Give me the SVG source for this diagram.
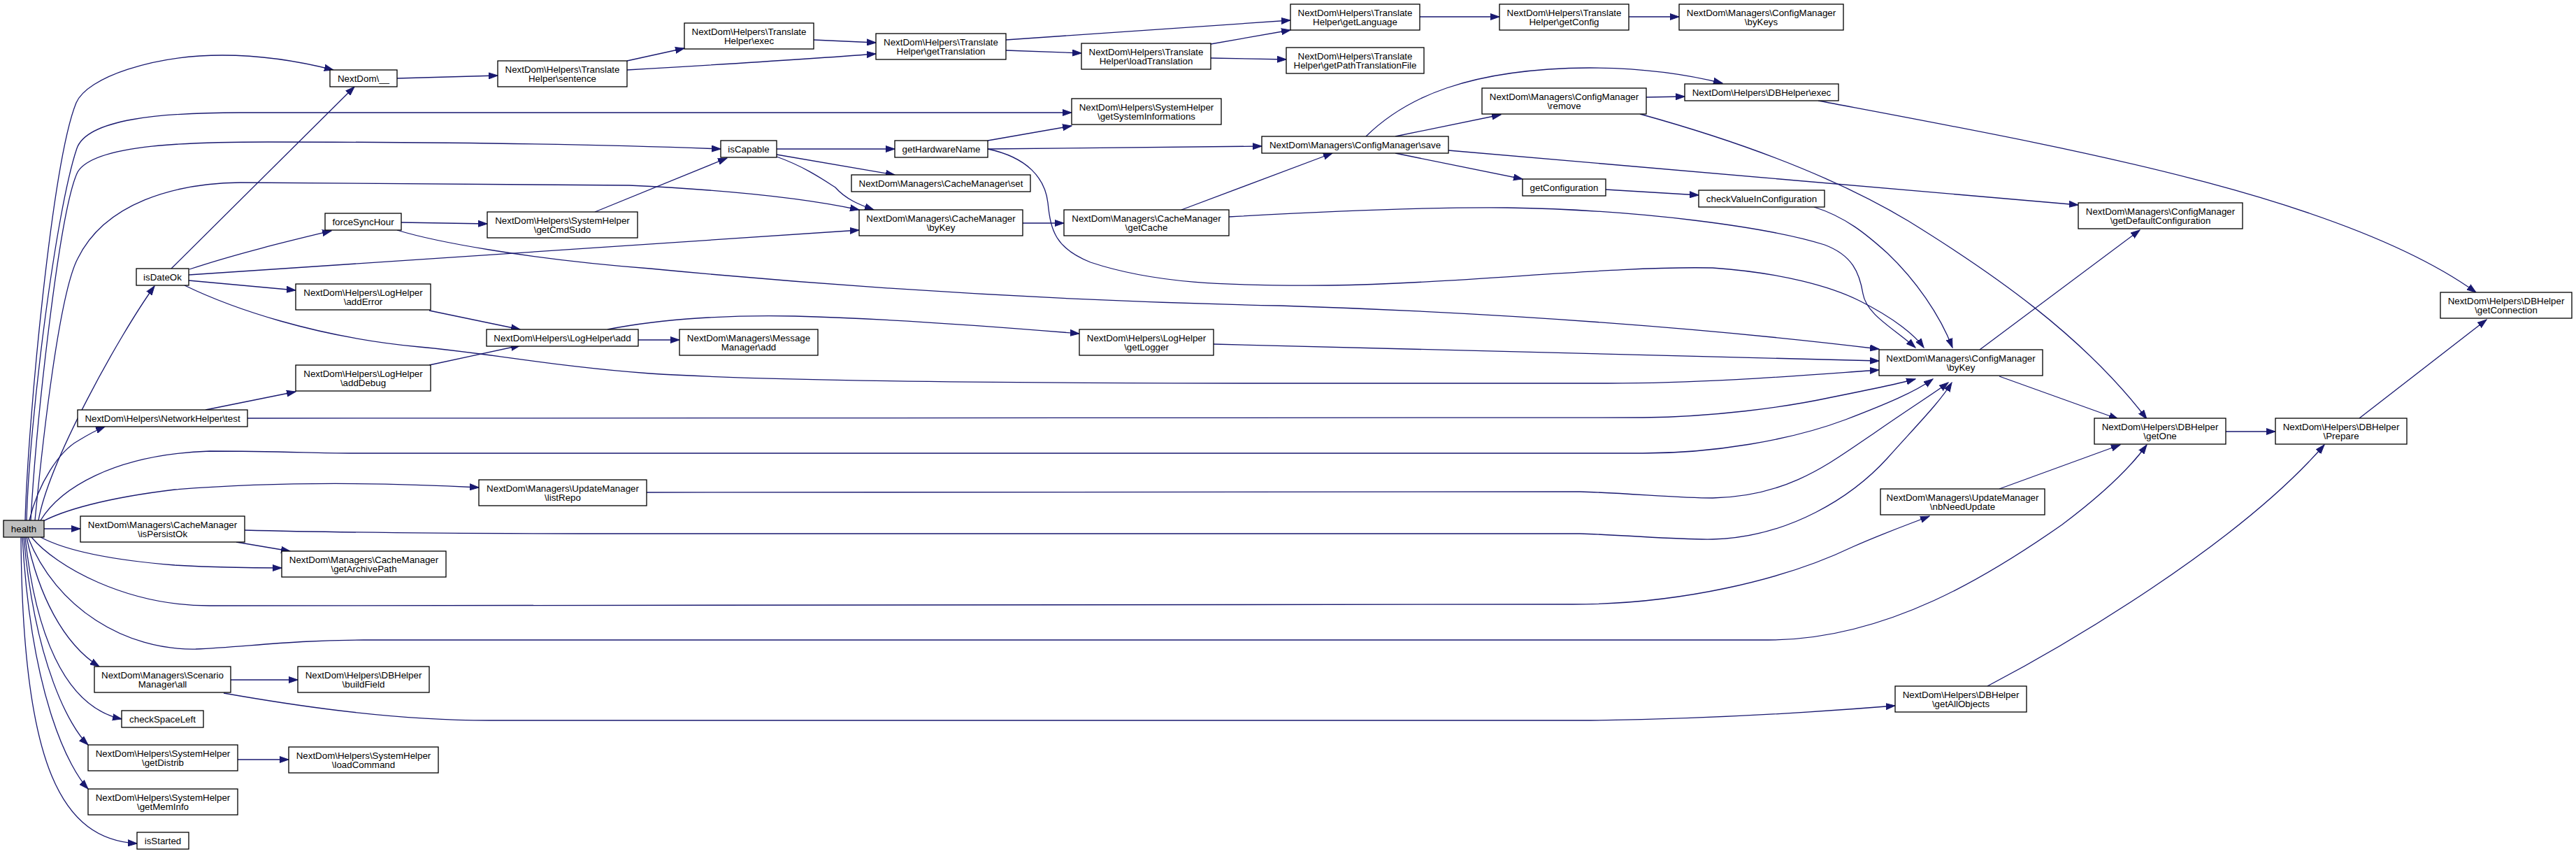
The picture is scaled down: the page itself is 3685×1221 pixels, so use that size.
<svg xmlns="http://www.w3.org/2000/svg" width="3685" height="1221" viewBox="0 0 3685 1221">
<style>
.n rect{fill:#ffffff;stroke:#000000;stroke-width:1.3}
.n text{font-family:"Liberation Sans",Arial,Helvetica,sans-serif;font-size:13.33px;fill:#000000;text-anchor:middle}
#n_health rect{fill:#bfbfbf}
.e path{fill:none;stroke:#191970;stroke-width:1.3;marker-end:url(#ah)}
</style>
<defs>
<marker id="ah" markerWidth="14" markerHeight="10" refX="13" refY="5" orient="auto" markerUnits="userSpaceOnUse">
<path d="M0,0.5 L13,5 L0,9.5 z" fill="#191970" stroke="#191970" stroke-width="1"/>
</marker>
</defs>
<rect x="0" y="0" width="3685" height="1221" fill="#ffffff"/>
<g id="edges" class="e">
<path d="M 36,744 C 40,600 75,230 109,147 C 125,110 220,79 318,79 C 380,79 430,88 477,100"/>
<path d="M 38,744 C 42,600 80,300 110,212 C 125,170 230,161 344,161 L 1533,161"/>
<path d="M 44,744 C 52,600 85,300 111,246 C 135,205 280,203 383,203 C 600,203 850,206 1031,213"/>
<path d="M 50,744 C 62,620 85,420 111,370 C 150,290 250,262 344,261 L 900,265 C 1050,272 1160,285 1229,300"/>
<path d="M 55,744 C 70,660 170,480 221,409"/>
<path d="M 42,744 C 55,690 85,645 112,630 C 125,622 138,615 150,610"/>
<path d="M 58,744 C 85,700 160,650 300,645 C 400,645 450,648 500,648 L 2350,648 C 2450,648 2560,630 2640,600 C 2700,577 2740,560 2765,542"/>
<path d="M 60,746 C 90,730 150,712 250,700 C 400,688 550,690 685,697"/>
<path d="M 63,756 L 115,756"/>
<path d="M 58,768 C 90,785 150,800 250,808 C 320,812 370,812 403,812"/>
<path d="M 45,768 C 80,810 180,866 300,866 L 2250,864 C 2400,864 2550,830 2650,782 C 2700,760 2735,748 2760,738"/>
<path d="M 40,768 C 80,870 180,930 280,928 C 350,925 420,915 520,915 L 2530,915 C 2700,915 2850,820 2950,750 C 3010,705 3050,665 3071,636"/>
<path d="M 38,768 C 55,850 90,920 142,953"/>
<path d="M 36,768 C 50,900 90,1010 174,1028"/>
<path d="M 34,768 C 50,950 100,1040 126,1065"/>
<path d="M 32,768 C 45,1000 100,1100 126,1128"/>
<path d="M 30,768 C 32,1100 90,1200 196,1206"/>
<path d="M 245,384 L 507,124"/>
<path d="M 271,385 C 340,362 420,343 474,330"/>
<path d="M 270,393 L 1229,329"/>
<path d="M 270,401 L 423,415"/>
<path d="M 264,408 C 330,440 450,482 600,496 C 700,505 800,525 930,534 C 1100,545 1500,548 1830,548 L 2300,548 C 2450,548 2600,535 2688,529"/>
<path d="M 574,318 L 697,320"/>
<path d="M 568,329 C 620,345 750,370 930,384 C 1200,410 1500,430 1830,437 C 2150,447 2450,470 2688,499"/>
<path d="M 851,303 L 1040,226"/>
<path d="M 614,444 L 744,471"/>
<path d="M 614,522 L 744,494"/>
<path d="M 294,586 L 423,560"/>
<path d="M 354,598 L 2350,597 C 2450,596 2550,583 2620,568 C 2680,556 2715,549 2740,542"/>
<path d="M 913,486 L 972,486"/>
<path d="M 869,471 C 950,455 1050,450 1137,452 C 1250,455 1400,465 1544,477"/>
<path d="M 1736,492 L 2688,516"/>
<path d="M 568,112 L 712,108"/>
<path d="M 897,87 L 979,69"/>
<path d="M 897,100 C 1000,94 1150,85 1253,77"/>
<path d="M 1164,57 L 1253,61"/>
<path d="M 1439,57 L 1846,29"/>
<path d="M 1439,72 L 1547,76"/>
<path d="M 1732,63 L 1846,43"/>
<path d="M 1732,83 L 1840,85"/>
<path d="M 2031,24 L 2145,24"/>
<path d="M 2330,24 L 2402,24"/>
<path d="M 1413,201 L 1533,180"/>
<path d="M 1413,213 L 1805,209"/>
<path d="M 1413,213 C 1470,225 1495,255 1499,290 C 1503,330 1510,355 1560,375 C 1650,405 1750,409 1900,408 C 2100,405 2300,380 2450,383 C 2550,390 2620,410 2660,430 C 2710,455 2740,480 2752,497"/>
<path d="M 1111,213 L 1280,213"/>
<path d="M 1111,221 L 1280,250"/>
<path d="M 1111,224 C 1150,238 1175,255 1195,268 C 1210,285 1230,293 1250,300"/>
<path d="M 1463,319 L 1522,319"/>
<path d="M 1690,300 L 1906,219"/>
<path d="M 1758,310 C 1900,302 2050,296 2156,297 C 2350,300 2530,325 2610,350 C 2650,365 2660,390 2665,420 C 2670,450 2710,470 2740,497"/>
<path d="M 1954,195 C 2010,140 2100,98 2274,97 C 2360,97 2420,108 2464,119"/>
<path d="M 1996,195 L 2147,164"/>
<path d="M 1996,219 L 2178,256"/>
<path d="M 2072,215 L 2973,293"/>
<path d="M 2355,139 L 2410,138"/>
<path d="M 2297,271 L 2430,279"/>
<path d="M 2595,296 C 2640,310 2670,335 2700,362 C 2740,400 2775,450 2793,497"/>
<path d="M 2346,163 C 2480,200 2620,250 2730,316 C 2850,390 2980,480 3071,599"/>
<path d="M 2601,144 C 2950,210 3350,280 3542,418"/>
<path d="M 2832,500 L 3061,329"/>
<path d="M 2860,538 L 3030,599"/>
<path d="M 3184,617 L 3255,617"/>
<path d="M 3375,598 L 3557,457"/>
<path d="M 2860,699 L 3033,636"/>
<path d="M 2843,981 C 2950,925 3200,780 3325,636"/>
<path d="M 330,972 L 426,972"/>
<path d="M 320,991 C 400,1005 550,1030 700,1030 L 2275,1030 C 2450,1028 2600,1018 2711,1009"/>
<path d="M 340,1086 L 413,1086"/>
<path d="M 338,775 L 415,788"/>
<path d="M 350,758 C 500,762 700,763 900,763 L 2260,763 C 2330,765 2400,772 2450,771 C 2560,768 2650,710 2700,655 C 2740,610 2775,575 2792,547"/>
<path d="M 925,704 L 2260,703 C 2330,705 2400,712 2450,712 C 2560,710 2620,660 2680,620 C 2730,585 2770,560 2787,547"/>
</g>
<g id="n_health" class="n"><rect x="5" y="744" width="58" height="24"/><text x="34" y="761">health</text></g>
<g id="n_underscore" class="n"><rect x="472" y="100" width="96" height="24"/><text x="520" y="117">NextDom\__</text></g>
<g id="n_sentence" class="n"><rect x="712" y="87" width="185" height="37"/><text x="804.5" y="104">NextDom\Helpers\Translate</text><text x="804.5" y="117">Helper\sentence</text></g>
<g id="n_texec" class="n"><rect x="979" y="33" width="185" height="37"/><text x="1071.5" y="50">NextDom\Helpers\Translate</text><text x="1071.5" y="63">Helper\exec</text></g>
<g id="n_gettranslation" class="n"><rect x="1253" y="48" width="186" height="37"/><text x="1346" y="65">NextDom\Helpers\Translate</text><text x="1346" y="78">Helper\getTranslation</text></g>
<g id="n_loadtranslation" class="n"><rect x="1547" y="62" width="185" height="37"/><text x="1639.5" y="79">NextDom\Helpers\Translate</text><text x="1639.5" y="92">Helper\loadTranslation</text></g>
<g id="n_getlanguage" class="n"><rect x="1846" y="6" width="185" height="37"/><text x="1938.5" y="23">NextDom\Helpers\Translate</text><text x="1938.5" y="36">Helper\getLanguage</text></g>
<g id="n_getconfig" class="n"><rect x="2145" y="6" width="185" height="37"/><text x="2237.5" y="23">NextDom\Helpers\Translate</text><text x="2237.5" y="36">Helper\getConfig</text></g>
<g id="n_bykeys" class="n"><rect x="2402" y="6" width="235" height="37"/><text x="2519.5" y="23">NextDom\Managers\ConfigManager</text><text x="2519.5" y="36">\byKeys</text></g>
<g id="n_getpath" class="n"><rect x="1840" y="68" width="197" height="37"/><text x="1938.5" y="85">NextDom\Helpers\Translate</text><text x="1938.5" y="98">Helper\getPathTranslationFile</text></g>
<g id="n_getsysinfo" class="n"><rect x="1533" y="141" width="214" height="37"/><text x="1640" y="158">NextDom\Helpers\SystemHelper</text><text x="1640" y="171">\getSystemInformations</text></g>
<g id="n_iscapable" class="n"><rect x="1031" y="201" width="80" height="24"/><text x="1071" y="218">isCapable</text></g>
<g id="n_gethw" class="n"><rect x="1280" y="201" width="133" height="24"/><text x="1346.5" y="218">getHardwareName</text></g>
<g id="n_cacheset" class="n"><rect x="1218" y="250" width="256" height="24"/><text x="1346" y="267">NextDom\Managers\CacheManager\set</text></g>
<g id="n_cachebykey" class="n"><rect x="1229" y="300" width="234" height="37"/><text x="1346" y="317">NextDom\Managers\CacheManager</text><text x="1346" y="330">\byKey</text></g>
<g id="n_getcache" class="n"><rect x="1522" y="300" width="236" height="37"/><text x="1640" y="317">NextDom\Managers\CacheManager</text><text x="1640" y="330">\getCache</text></g>
<g id="n_save" class="n"><rect x="1805" y="195" width="267" height="24"/><text x="1938.5" y="212">NextDom\Managers\ConfigManager\save</text></g>
<g id="n_remove" class="n"><rect x="2120" y="126" width="235" height="37"/><text x="2237.5" y="143">NextDom\Managers\ConfigManager</text><text x="2237.5" y="156">\remove</text></g>
<g id="n_dbexec" class="n"><rect x="2410" y="120" width="220" height="24"/><text x="2520" y="137">NextDom\Helpers\DBHelper\exec</text></g>
<g id="n_getconfiguration" class="n"><rect x="2178" y="256" width="119" height="24"/><text x="2237.5" y="273">getConfiguration</text></g>
<g id="n_checkvalue" class="n"><rect x="2430" y="272" width="180" height="24"/><text x="2520" y="289">checkValueInConfiguration</text></g>
<g id="n_getdefault" class="n"><rect x="2973" y="290" width="235" height="37"/><text x="3090.5" y="307">NextDom\Managers\ConfigManager</text><text x="3090.5" y="320">\getDefaultConfiguration</text></g>
<g id="n_configbykey" class="n"><rect x="2688" y="500" width="234" height="37"/><text x="2805" y="517">NextDom\Managers\ConfigManager</text><text x="2805" y="530">\byKey</text></g>
<g id="n_getconnection" class="n"><rect x="3491" y="418" width="188" height="37"/><text x="3585" y="435">NextDom\Helpers\DBHelper</text><text x="3585" y="448">\getConnection</text></g>
<g id="n_getone" class="n"><rect x="2996" y="598" width="188" height="37"/><text x="3090" y="615">NextDom\Helpers\DBHelper</text><text x="3090" y="628">\getOne</text></g>
<g id="n_prepare" class="n"><rect x="3255" y="598" width="188" height="37"/><text x="3349" y="615">NextDom\Helpers\DBHelper</text><text x="3349" y="628">\Prepare</text></g>
<g id="n_nbneedupdate" class="n"><rect x="2690" y="699" width="235" height="37"/><text x="2807.5" y="716">NextDom\Managers\UpdateManager</text><text x="2807.5" y="729">\nbNeedUpdate</text></g>
<g id="n_getallobjects" class="n"><rect x="2711" y="981" width="188" height="37"/><text x="2805" y="998">NextDom\Helpers\DBHelper</text><text x="2805" y="1011">\getAllObjects</text></g>
<g id="n_forcesync" class="n"><rect x="465" y="305" width="109" height="24"/><text x="519.5" y="322">forceSyncHour</text></g>
<g id="n_getcmdsudo" class="n"><rect x="697" y="303" width="215" height="37"/><text x="804.5" y="320">NextDom\Helpers\SystemHelper</text><text x="804.5" y="333">\getCmdSudo</text></g>
<g id="n_isdateok" class="n"><rect x="195" y="384" width="75" height="24"/><text x="232.5" y="401">isDateOk</text></g>
<g id="n_adderror" class="n"><rect x="423" y="406" width="193" height="37"/><text x="519.5" y="423">NextDom\Helpers\LogHelper</text><text x="519.5" y="436">\addError</text></g>
<g id="n_logadd" class="n"><rect x="696" y="471" width="217" height="24"/><text x="804.5" y="488">NextDom\Helpers\LogHelper\add</text></g>
<g id="n_adddebug" class="n"><rect x="423" y="522" width="193" height="37"/><text x="519.5" y="539">NextDom\Helpers\LogHelper</text><text x="519.5" y="552">\addDebug</text></g>
<g id="n_msgadd" class="n"><rect x="972" y="471" width="198" height="37"/><text x="1071" y="488">NextDom\Managers\Message</text><text x="1071" y="501">Manager\add</text></g>
<g id="n_getlogger" class="n"><rect x="1544" y="471" width="192" height="37"/><text x="1640" y="488">NextDom\Helpers\LogHelper</text><text x="1640" y="501">\getLogger</text></g>
<g id="n_nettest" class="n"><rect x="111" y="586" width="243" height="24"/><text x="232.5" y="603">NextDom\Helpers\NetworkHelper\test</text></g>
<g id="n_listrepo" class="n"><rect x="685" y="686" width="240" height="37"/><text x="805" y="703">NextDom\Managers\UpdateManager</text><text x="805" y="716">\listRepo</text></g>
<g id="n_ispersistok" class="n"><rect x="115" y="738" width="235" height="37"/><text x="232.5" y="755">NextDom\Managers\CacheManager</text><text x="232.5" y="768">\isPersistOk</text></g>
<g id="n_getarchivepath" class="n"><rect x="403" y="788" width="235" height="37"/><text x="520.5" y="805">NextDom\Managers\CacheManager</text><text x="520.5" y="818">\getArchivePath</text></g>
<g id="n_scenarioall" class="n"><rect x="135" y="953" width="195" height="37"/><text x="232.5" y="970">NextDom\Managers\Scenario</text><text x="232.5" y="983">Manager\all</text></g>
<g id="n_buildfield" class="n"><rect x="426" y="953" width="188" height="37"/><text x="520" y="970">NextDom\Helpers\DBHelper</text><text x="520" y="983">\buildField</text></g>
<g id="n_checkspace" class="n"><rect x="174" y="1016" width="117" height="24"/><text x="232.5" y="1033">checkSpaceLeft</text></g>
<g id="n_getdistrib" class="n"><rect x="126" y="1065" width="214" height="37"/><text x="233" y="1082">NextDom\Helpers\SystemHelper</text><text x="233" y="1095">\getDistrib</text></g>
<g id="n_loadcommand" class="n"><rect x="413" y="1068" width="214" height="37"/><text x="520" y="1085">NextDom\Helpers\SystemHelper</text><text x="520" y="1098">\loadCommand</text></g>
<g id="n_getmeminfo" class="n"><rect x="126" y="1128" width="214" height="37"/><text x="233" y="1145">NextDom\Helpers\SystemHelper</text><text x="233" y="1158">\getMemInfo</text></g>
<g id="n_isstarted" class="n"><rect x="196" y="1190" width="74" height="24"/><text x="233" y="1207">isStarted</text></g>
</svg>
